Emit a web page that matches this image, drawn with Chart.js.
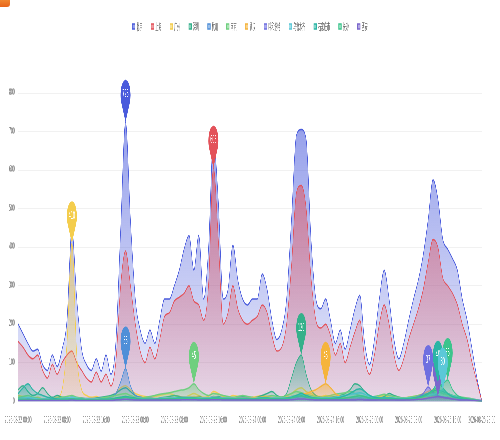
<!DOCTYPE html>
<html>

<head>
    <meta charset="UTF-8">
    <title>城市小时趋势</title>
    <script src="https://cdn.jsdelivr.net/npm/chart.js"></script>
    <style>
        body {
            margin: 0;
            overflow: hidden;
            background: #fff;
        }

        #wrap {
            position: absolute;
            left: 0;
            top: 0;
            width: 1500px;
            height: 440px;
            transform: scaleX(0.33333);
            transform-origin: 0 0;
        }

        #corner {
            position: absolute;
            left: -3px;
            top: -4px;
            width: 13px;
            height: 11px;
            border-radius: 3px;
            background: linear-gradient(#f59a3c, #e8641a);
        }
    </style>
</head>

<body>
    <div id="corner"></div>
    <div id="wrap">
        <canvas id="myChart"></canvas>
    </div>

    <script>
        // categories
        const days = ['2026-08-22', '2026-08-23', '2026-08-24', '2026-08-25'];
        const hours = ['00:00', '01:00', '02:00', '03:00', '04:00', '05:00', '06:00', '07:00',
            '08:00', '09:00', '10:00', '11:00', '12:00', '13:00', '14:00', '15:00',
            '16:00', '17:00', '18:00', '19:00', '20:00', '21:00', '22:00', '23:00'];

        const seriesNames = ['北京', '上海', '广州', '深圳', '杭州', '南京', '武汉', '呼和浩特', '乌鲁木齐', '石家庄市', '长沙', '西安'];
        const colors = ['#4a5bdc', '#e3525a', '#f4cd4d', '#34b08a', '#4f8fd8', '#6fcf7f',
            '#f5b43c', '#6f6fe0', '#5cc8d8', '#2bb5a5', '#3cc48c', '#7a66cc'];

        const yTicks = [0, 100, 200, 300, 400, 500, 600, 700, 800];

        // series values (hourly)
        const beijing = [200, 175, 150, 130, 135, 95, 80, 120, 90, 135,
            210, 445, 265, 135, 95, 80, 110, 78, 120, 70,
            150, 445, 725, 470, 265, 185, 150, 185, 150, 210,
            265, 265, 300, 340, 395, 430, 340, 430, 265, 395,
            680, 520, 265, 290, 405, 315, 265, 250, 265, 265,
            330, 290, 210, 160, 185, 265, 470, 690, 705, 680,
            420, 265, 240, 265, 210, 150, 185, 135, 185, 240,
            275, 150, 95, 160, 265, 340, 265, 160, 110, 150,
            210, 265, 315, 380, 470, 575, 525, 420, 395, 370,
            340, 265, 210, 135, 60, 0];
        const shanghai = [155, 140, 120, 110, 120, 80, 60, 95, 70, 100,
            120, 130, 100, 80, 60, 50, 75, 50, 70, 40,
            100, 300, 390, 300, 200, 130, 100, 140, 110, 160,
            220, 230, 260, 270, 280, 300, 260, 250, 210, 300,
            606, 420, 200, 230, 300, 240, 210, 200, 210, 220,
            250, 230, 170, 130, 140, 200, 350, 540, 560, 500,
            320, 210, 190, 200, 170, 120, 150, 100, 140, 180,
            210, 110, 70, 120, 200, 250, 200, 120, 80, 110,
            160, 200, 240, 290, 360, 420, 400, 320, 300, 280,
            250, 200, 160, 100, 50, 0];
        const guangzhou = [15, 12, 10, 8, 10, 6, 5, 8, 10, 30,
            150, 410, 120, 30, 15, 10, 12, 8, 10, 6,
            20, 35, 40, 30, 20, 15, 12, 10, 12, 15,
            18, 20, 15, 12, 10, 15, 20, 15, 10, 12,
            25, 20, 12, 10, 15, 12, 10, 8, 10, 12,
            15, 12, 10, 8, 10, 15, 20, 30, 35, 25,
            20, 15, 12, 15, 10, 8, 10, 6, 8, 12,
            15, 10, 6, 8, 12, 15, 10, 8, 6, 8,
            10, 12, 15, 20, 25, 30, 28, 20, 15, 12,
            10, 8, 6, 4, 2, 0];
        const shenzhen = [30, 40, 25, 15, 20, 35, 20, 10, 15, 10,
            8, 10, 8, 6, 5, 6, 8, 10, 12, 15,
            20, 30, 35, 25, 15, 10, 8, 6, 5, 8,
            10, 12, 15, 12, 10, 8, 10, 12, 8, 6,
            10, 12, 8, 6, 8, 10, 12, 10, 8, 10,
            15, 20, 25, 15, 10, 20, 60, 100, 120, 70,
            30, 15, 10, 8, 10, 12, 15, 20, 30, 45,
            40, 25, 15, 10, 8, 12, 20, 15, 10, 8,
            6, 8, 10, 15, 20, 25, 30, 25, 20, 15,
            10, 8, 6, 4, 2, 0];
        const hangzhou = [8, 8, 7, 7, 6, 6, 6, 7, 7, 8,
            8, 10, 9, 8, 7, 7, 7, 8, 8, 10,
            20, 50, 85, 40, 15, 10, 8, 8, 7, 7,
            8, 8, 9, 9, 10, 10, 10, 9, 9, 9,
            12, 10, 9, 9, 9, 8, 8, 8, 8, 8,
            9, 9, 8, 8, 8, 9, 12, 15, 18, 14,
            10, 9, 8, 8, 8, 7, 7, 7, 8, 8,
            9, 8, 7, 7, 8, 8, 8, 7, 7, 7,
            8, 8, 9, 10, 12, 14, 13, 11, 10, 9,
            8, 8, 7, 6, 4, 2];
        const nanjing = [10, 12, 15, 10, 8, 6, 5, 6, 8, 10,
            12, 15, 10, 8, 6, 5, 6, 8, 10, 12,
            15, 18, 20, 15, 10, 8, 10, 12, 15, 18,
            20, 22, 25, 28, 30, 35, 45, 30, 20, 15,
            20, 18, 15, 12, 10, 12, 15, 12, 10, 8,
            10, 12, 15, 12, 10, 15, 20, 25, 22, 18,
            15, 12, 10, 12, 15, 18, 20, 22, 25, 20,
            15, 12, 10, 12, 15, 18, 15, 12, 10, 8,
            10, 12, 15, 18, 20, 22, 25, 20, 18, 15,
            12, 10, 8, 6, 3, 0];
        const wuhan = [5, 5, 4, 4, 3, 3, 3, 4, 4, 5,
            6, 8, 6, 5, 4, 4, 4, 5, 5, 6,
            8, 10, 12, 10, 8, 6, 5, 5, 5, 6,
            7, 8, 8, 9, 10, 10, 12, 10, 8, 8,
            10, 9, 8, 8, 8, 7, 7, 7, 8, 9,
            10, 10, 9, 8, 8, 10, 12, 15, 18, 20,
            25, 30, 38, 45, 35, 20, 12, 8, 6, 5,
            5, 5, 4, 4, 5, 6, 6, 5, 4, 4,
            5, 6, 7, 8, 10, 12, 11, 9, 8, 7,
            6, 5, 4, 3, 2, 0];
        const huhehaote = [4, 4, 3, 3, 3, 3, 3, 3, 3, 4,
            4, 5, 4, 4, 3, 3, 3, 3, 4, 4,
            5, 8, 10, 8, 5, 4, 4, 4, 4, 4,
            5, 5, 5, 6, 6, 6, 6, 6, 5, 5,
            8, 7, 6, 6, 6, 5, 5, 5, 5, 5,
            6, 6, 5, 5, 5, 6, 8, 10, 12, 10,
            8, 6, 6, 6, 5, 5, 5, 5, 5, 5,
            6, 5, 4, 4, 5, 6, 6, 5, 4, 4,
            6, 8, 12, 20, 37, 22, 15, 10, 8, 6,
            5, 4, 4, 3, 2, 0];
        const wulumuqi = [6, 8, 10, 8, 6, 5, 5, 6, 6, 7,
            8, 10, 8, 6, 5, 5, 5, 6, 6, 7,
            8, 10, 12, 10, 8, 7, 6, 6, 6, 7,
            8, 8, 9, 9, 10, 10, 10, 9, 8, 8,
            10, 9, 8, 8, 8, 7, 7, 7, 7, 8,
            9, 9, 8, 8, 8, 9, 12, 15, 18, 14,
            10, 9, 8, 8, 8, 10, 12, 15, 18, 20,
            22, 18, 12, 10, 9, 9, 9, 8, 7, 7,
            8, 8, 10, 12, 15, 18, 22, 30, 20, 14,
            10, 8, 6, 4, 2, 0];
        const shijiazhuang = [20, 35, 45, 30, 20, 15, 10, 8, 6, 5,
            5, 6, 5, 5, 4, 4, 4, 5, 5, 6,
            8, 10, 12, 10, 8, 6, 5, 5, 5, 6,
            6, 7, 7, 8, 8, 8, 8, 7, 7, 7,
            8, 8, 7, 7, 7, 6, 6, 6, 6, 7,
            8, 8, 7, 7, 7, 8, 10, 15, 20, 15,
            10, 8, 7, 7, 7, 8, 10, 14, 20, 28,
            32, 25, 15, 10, 8, 8, 8, 7, 6, 6,
            7, 8, 10, 14, 20, 30, 48, 35, 20, 12,
            9, 7, 5, 4, 2, 0];
        const changsha = [5, 5, 4, 4, 4, 4, 4, 4, 4, 5,
            5, 6, 5, 5, 4, 4, 4, 5, 5, 5,
            6, 8, 10, 8, 6, 5, 5, 5, 5, 5,
            6, 6, 6, 7, 7, 7, 8, 7, 6, 6,
            7, 7, 6, 6, 6, 6, 6, 6, 6, 6,
            7, 7, 6, 6, 6, 7, 9, 12, 14, 11,
            8, 7, 6, 6, 6, 6, 7, 8, 10, 12,
            14, 12, 8, 7, 6, 6, 6, 6, 5, 5,
            6, 7, 9, 12, 18, 28, 38, 45, 55, 30,
            15, 9, 6, 4, 2, 0];
        const xian = [2, 2, 2, 2, 2, 2, 2, 2, 2, 2,
            2, 3, 2, 2, 2, 2, 2, 2, 2, 2,
            3, 4, 5, 4, 3, 3, 3, 3, 3, 3,
            3, 3, 3, 3, 4, 4, 4, 3, 3, 3,
            4, 4, 3, 3, 3, 3, 3, 3, 3, 3,
            3, 3, 3, 3, 3, 3, 4, 5, 6, 5,
            4, 3, 3, 3, 3, 3, 3, 3, 3, 3,
            4, 3, 3, 3, 3, 3, 3, 3, 3, 3,
            3, 4, 5, 6, 8, 10, 12, 10, 8, 6,
            4, 3, 3, 2, 1, 0];

        const allSeries = [beijing, shanghai, guangzhou, shenzhen, hangzhou, nanjing,
            wuhan, huhehaote, wulumuqi, shijiazhuang, changsha, xian];

        const labels = [];
        days.forEach(d => hours.forEach(h => labels.push(d + ' ' + h)));

        function rgba(hex, a) {
            const n = parseInt(hex.slice(1), 16);
            return `rgba(${(n >> 16) & 255}, ${(n >> 8) & 255}, ${n & 255}, ${a})`;
        }

        function areaFill(context) {
            const chart = context.chart;
            const area = chart.chartArea;
            const i = context.datasetIndex;
            if (!area) return rgba(colors[i], 0.3);
            const top = chart.scales.y.getPixelForValue(Math.max(...allSeries[i]));
            const g = chart.ctx.createLinearGradient(0, top, 0, area.bottom);
            g.addColorStop(0, rgba(colors[i], 0.58));
            g.addColorStop(1, rgba(colors[i], 0.12));
            return g;
        }

        // push the plot down below the legend, nudge the legend a bit
        const legendSpace = {
            id: 'legendSpace',
            beforeInit(chart) {
                const fit = chart.legend.fit;
                chart.legend.fit = function () {
                    fit.call(this);
                    this.height = 93;
                };
            },
            afterLayout(chart) {
                const lg = chart.legend;
                lg.left += 27;
                lg.right += 27;
                lg.top -= 4;
                lg.bottom -= 4;
            }
        };

        // pin marker at each series maximum
        const maxPins = {
            id: 'maxPins',
            afterDatasetsDraw(chart) {
                const ctx = chart.ctx;
                const xs = chart.scales.x, ys = chart.scales.y;
                for (let i = chart.data.datasets.length - 1; i >= 0; i--) {
                    if (!chart.isDatasetVisible(i)) continue;
                    const data = chart.data.datasets[i].data;
                    const max = Math.max(...data);
                    const idx = data.indexOf(max);
                    const px = xs.getPixelForValue(idx);
                    const py = ys.getPixelForValue(max);
                    const r = 15, d = 27;
                    const cy = py - d;
                    const t = Math.acos(r / d);
                    ctx.save();
                    ctx.beginPath();
                    ctx.moveTo(px, py);
                    ctx.arc(px, cy, r, Math.PI / 2 + t, Math.PI / 2 - t);
                    ctx.closePath();
                    ctx.fillStyle = colors[i];
                    ctx.fill();
                    ctx.fillStyle = '#fff';
                    ctx.font = '10px "DejaVu Sans"';
                    ctx.textAlign = 'center';
                    ctx.textBaseline = 'middle';
                    ctx.fillText(String(max), px, cy);
                    ctx.restore();
                }
            }
        };

        const datasets = allSeries.map((values, i) => ({
            label: seriesNames[i],
            data: values,
            borderColor: colors[i],
            backgroundColor: areaFill,
            borderWidth: 1.5,
            fill: 'origin',
            pointRadius: 0,
            cubicInterpolationMode: 'monotone',
            order: allSeries.length - i
        }));

        const ctx = document.getElementById('myChart').getContext('2d');
        const myChart = new Chart(ctx, {
            type: 'line',
            data: {
                labels: labels,
                datasets: datasets
            },
            options: {
                responsive: true,
                maintainAspectRatio: false,
                animation: false,
                layout: {
                    padding: { left: 0, right: 54, top: 0, bottom: 0 }
                },
                plugins: {
                    legend: {
                        position: 'top',
                        labels: {
                            boxWidth: 8,
                            boxHeight: 5,
                            padding: 26,
                            color: '#666',
                            font: { size: 9, family: '"Noto Sans CJK SC"' },
                            sort: (a, b) => a.datasetIndex - b.datasetIndex
                        }
                    },
                    tooltip: { enabled: false }
                },
                scales: {
                    x: {
                        grid: { display: false, drawTicks: false },
                        border: { color: '#c8cde0' },
                        ticks: {
                            autoSkip: false,
                            maxRotation: 0,
                            padding: 14,
                            color: '#888',
                            font: { size: 9, family: '"DejaVu Sans"' },
                            callback: function (value, index) {
                                if (index % 8 === 0 || index === labels.length - 1) {
                                    return this.getLabelForValue(value);
                                }
                                return '';
                            }
                        }
                    },
                    y: {
                        min: yTicks[0],
                        max: yTicks[yTicks.length - 1],
                        afterFit: scale => { scale.width = 51; },
                        grid: { color: '#f1f1f1', drawTicks: false },
                        border: { display: false },
                        ticks: {
                            stepSize: yTicks[1] - yTicks[0],
                            padding: 10,
                            color: '#888',
                            font: { size: 9, family: '"DejaVu Sans"' }
                        }
                    }
                }
            },
            plugins: [legendSpace, maxPins]
        });
    </script>
</body>

</html>
